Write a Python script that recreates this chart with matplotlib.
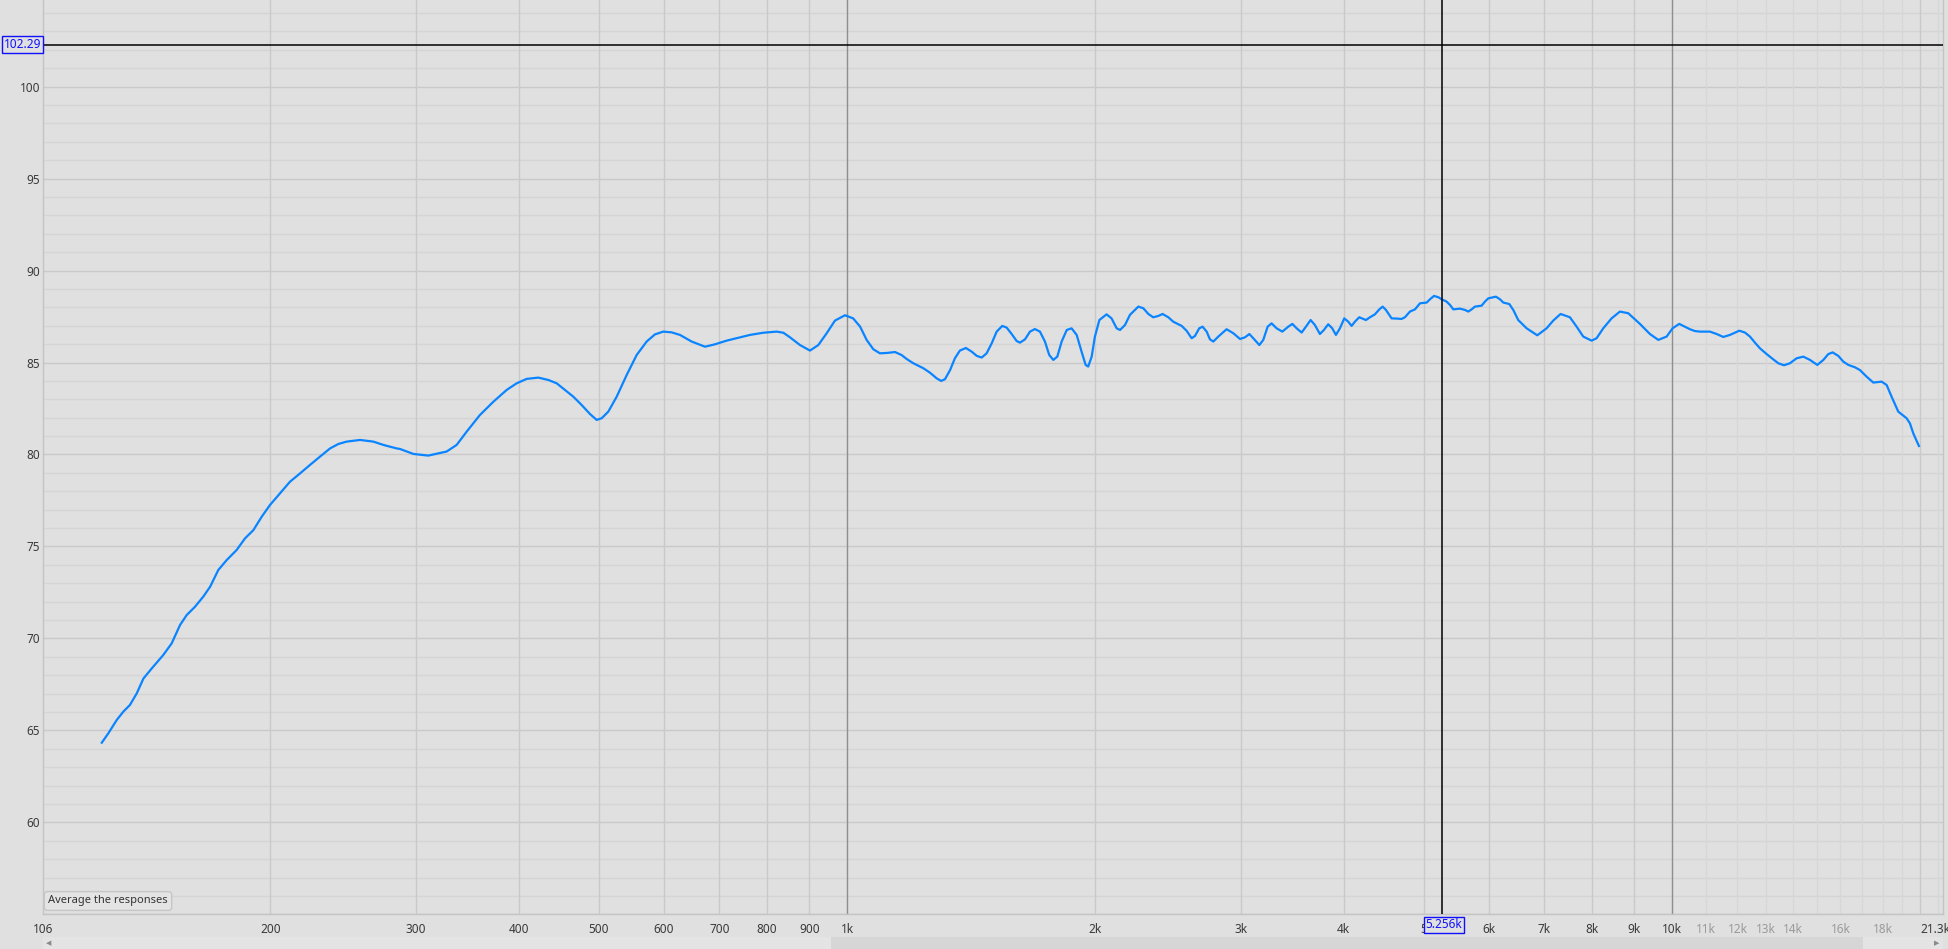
import matplotlib
matplotlib.use('Agg')
import matplotlib.pyplot as plt
from matplotlib.patches import Rectangle

# frequency response (Hz, dB)
freq_hz = [124.9, 127.2, 130.2, 132.6, 135.1, 137.7, 140.3, 143.6, 148.3, 151.8,
           155.4, 158.3, 162.0, 165.8, 169.0, 172.9, 177.0, 182.0, 186.3, 190.7,
           195.2, 199.7, 205.4, 211.2, 217.2, 223.3, 229.6, 236.2, 241.7, 247.4,
           256.8, 266.5, 274.1, 284.4,
           287.1, 298.0, 310.7, 327.0, 336.3, 345.8, 358.9, 372.6, 386.7, 397.6,
           408.9, 422.4, 434.4, 444.6, 455.0, 465.8, 476.7, 487.9, 497.1, 504.1,
           513.5, 525.6, 540.5, 555.8, 571.5, 584.9, 598.7, 612.8, 627.2, 648.0,
           672.6, 691.6, 714.5, 741.6, 762.5, 791.4, 821.5, 836.9, 852.6, 876.8,
           901.6, 922.8, 944.5, 966.7, 994.1,
           1017, 1037, 1056, 1076, 1096, 1117, 1143, 1164, 1181, 1203,
           1237, 1260, 1284, 1300, 1314, 1333, 1351, 1370, 1393, 1416,
           1436, 1456, 1476, 1497, 1518, 1542, 1561, 1583, 1605, 1620,
           1643, 1666, 1689, 1713, 1737, 1758, 1778, 1798, 1820, 1846,
           1871, 1898, 1924, 1946, 1960, 1979, 1997, 2022, 2063, 2092,
           2122, 2142, 2172, 2202, 2254, 2286, 2318, 2350, 2383, 2412,
           2451, 2485, 2544, 2579, 2616, 2640, 2672, 2697, 2728, 2753,
           2779, 2818, 2884, 2939, 2994, 3036, 3073, 3107, 3160, 3195,
           3234, 3270, 3316, 3369, 3426, 3465, 3507,
           3556, 3599, 3646, 3690, 3742, 3784, 3830, 3873, 3913, 3957,
           4005, 4050, 4088, 4126, 4176, 4255, 4303, 4363, 4417, 4458,
           4499, 4571, 4635, 4700, 4744, 4811, 4879, 4948, 5041, 5088,
           5145, 5208, 5256, 5330, 5380, 5430, 5532, 5609, 5662, 5715,
           5768, 5876, 5931, 5987, 6116, 6185, 6243, 6348, 6419, 6509,
           6663, 6864, 7045, 7177, 7326, 7519, 7661, 7804, 7988, 8100,
           8252, 8446, 8645, 8848, 9141, 9400, 9622, 9848, 10014, 10202,
           10511, 10659, 10809, 11115, 11324, 11537, 11752, 12063, 12255, 12428,
           12603, 12780, 13020, 13264, 13451, 13665, 13895, 14157, 14423, 14695,
           14998, 15252, 15466, 15654, 15903, 16126, 16353, 16659, 16893, 17211,
           17534, 17947, 18199, 18454, 18800, 19243, 19423, 19604, 19917]
spl_db = [64.33, 64.84, 65.56, 66.01, 66.38, 67.01, 67.82, 68.37, 69.10, 69.73,
          70.73, 71.27, 71.72, 72.27, 72.81, 73.72, 74.26, 74.81, 75.44, 75.89,
          76.62, 77.25, 77.89, 78.52, 78.97, 79.43, 79.88, 80.33, 80.57, 80.70,
          80.79, 80.70, 80.52, 80.33,
          80.30, 80.03, 79.94, 80.16, 80.52, 81.24, 82.15, 82.87, 83.51, 83.87,
          84.11, 84.18, 84.05, 83.87, 83.51, 83.14, 82.69, 82.20, 81.88, 81.97,
          82.33, 83.14, 84.32, 85.41, 86.14, 86.53, 86.68, 86.64, 86.50, 86.14,
          85.86, 85.99, 86.19, 86.37, 86.50, 86.62, 86.68, 86.62, 86.37, 85.95,
          85.65, 85.95, 86.59, 87.28, 87.57,
          87.40, 86.95, 86.23, 85.72, 85.50, 85.52, 85.57, 85.41, 85.19, 84.96,
          84.69, 84.45, 84.14, 84.00, 84.09, 84.59, 85.23, 85.65, 85.79, 85.59,
          85.36, 85.27, 85.50, 86.04, 86.68, 86.99, 86.90, 86.55, 86.17, 86.08,
          86.26, 86.68, 86.82, 86.68, 86.14, 85.41, 85.14, 85.32, 86.14, 86.77,
          86.86, 86.50, 85.59, 84.87, 84.78, 85.32, 86.41, 87.31, 87.62, 87.40,
          86.86, 86.77, 87.04, 87.59, 88.04, 87.95, 87.64, 87.46, 87.53, 87.64,
          87.46, 87.22, 86.99, 86.73, 86.32, 86.44, 86.86, 86.95, 86.68, 86.26,
          86.14, 86.41, 86.81, 86.59, 86.28, 86.37, 86.55, 86.32, 85.95, 86.23,
          86.95, 87.13, 86.86, 86.68, 86.95, 87.10, 86.86,
          86.63, 86.95, 87.31, 87.04, 86.55, 86.77, 87.08, 86.86, 86.50, 86.86,
          87.40, 87.22, 86.99, 87.22, 87.46, 87.31, 87.46, 87.62, 87.89, 88.04,
          87.86, 87.40, 87.39, 87.37, 87.46, 87.77, 87.89, 88.22, 88.26, 88.44,
          88.62, 88.55, 88.44, 88.31, 88.13, 87.89, 87.93, 87.86, 87.77, 87.89,
          88.04, 88.09, 88.31, 88.49, 88.58, 88.44, 88.26, 88.18, 87.86, 87.31,
          86.86, 86.48, 86.86, 87.28, 87.64, 87.46, 86.95, 86.41, 86.19, 86.32,
          86.86, 87.40, 87.77, 87.68, 87.10, 86.55, 86.23, 86.41, 86.86, 87.10,
          86.81, 86.71, 86.68, 86.68, 86.55, 86.39, 86.50, 86.73, 86.63, 86.41,
          86.08, 85.77, 85.46, 85.17, 84.96, 84.85, 84.96, 85.23, 85.32, 85.14,
          84.87, 85.14, 85.46, 85.55, 85.36, 85.05, 84.87, 84.74, 84.59, 84.23,
          83.91, 83.96, 83.78, 83.14, 82.33, 81.97, 81.69, 81.15, 80.46]

x_tick_hz = [106, 200, 300, 400, 500, 600, 700, 800, 900, 1000, 2000, 3000, 4000, 5000,
             6000, 7000, 8000, 9000, 10000, 11000, 12000, 13000, 14000, 16000, 18000, 21300]
x_tick_labels = ['106', '200', '300', '400', '500', '600', '700', '800', '900', '1k',
                 '2k', '3k', '4k', '5', '6k', '7k', '8k', '9k', '10k', '11k', '12k',
                 '13k', '14k', '16k', '18k', '21.3kHz']
y_ticks = [60, 65, 70, 75, 80, 85, 90, 95, 100]

cursor_hz = 5256
cursor_db = 102.29

bg = '#e0e0e0'
plt.rcParams['font.family'] = ['Noto Sans', 'DejaVu Sans']

fig = plt.figure(figsize=(19.48, 9.49), dpi=100, facecolor=bg)
ax = fig.add_axes([43 / 1948, 34.7 / 949, 1900 / 1948, 914.3 / 949])
ax.set_facecolor(bg)
ax.set_xscale('log')
ax.set_xlim(106, 21300)
ax.set_ylim(55, 104.71)

# horizontal grid: 1 dB minor, 5 dB major
for v in range(55, 105):
    ax.axhline(v, color='#c9c9c9' if v % 5 == 0 else '#d5d5d5', lw=1, zorder=0)

# vertical grid
for f in [200, 300, 400, 500, 600, 700, 800, 900, 2000, 3000, 4000, 5000,
          6000, 7000, 8000, 9000, 20000]:
    ax.axvline(f, color='#c9c9c9', lw=1, zorder=0)
for f in [11000, 12000, 13000, 14000, 15000, 16000, 17000, 18000, 19000, 21000]:
    ax.axvline(f, color='#d7d7d7', lw=1, zorder=0)
for f in [1000, 10000]:
    ax.axvline(f, color='#8e8e8e', lw=1, zorder=1)

ax.plot(freq_hz, spl_db, color='#0a84ff', lw=1.6, zorder=3, solid_joinstyle='round')

# cursor lines
ax.axhline(cursor_db, color='black', lw=1.1, zorder=4)
ax.axvline(cursor_hz, color='black', lw=1.1, zorder=4)

for s in ax.spines.values():
    s.set_color('#c4c4c4')
    s.set_linewidth(1)
ax.spines['top'].set_visible(False)

ax.set_xticks(x_tick_hz)
ax.set_xticklabels(x_tick_labels)
ax.minorticks_off()
ax.set_yticks(y_ticks)
ax.set_yticklabels([str(v) for v in y_ticks])
ax.tick_params(axis='both', length=0, labelsize=8.5, labelcolor='#3a3a3a')
ax.tick_params(axis='x', pad=6)
ax.tick_params(axis='y', pad=2)
for lab, f in zip(ax.get_xticklabels(), x_tick_hz):
    if 10000 < f < 20000:
        lab.set_color('#9a9a9a')
for lab in ax.get_xticklabels() + ax.get_yticklabels():
    lab.set_clip_on(False)

# cursor readouts
fig.text(22.5 / 1948, 1 - 44.5 / 949, f'{cursor_db:.2f}', ha='center', va='center',
         fontsize=8.5, color='#1010ff',
         bbox=dict(boxstyle='square,pad=0.15', fc=bg, ec='#1010ff', lw=1))
fig.text(1444 / 1948, 1 - 925 / 949, f'{cursor_hz / 1000:.3f}k', ha='center', va='center',
         fontsize=8.5, color='#1010ff',
         bbox=dict(boxstyle='square,pad=0.1', fc=bg, ec='#1010ff', lw=1))

# button
fig.text(108 / 1948, 1 - 901 / 949, 'Average the responses', ha='center', va='center',
         fontsize=8, color='#333333',
         bbox=dict(boxstyle='round,pad=0.35,rounding_size=0.3', fc='#e4e4e4', ec='#c6c6c6', lw=1))

# scrollbar
fig.patches.append(Rectangle((43 / 1948, 0), 1900 / 1948, 12 / 949, transform=fig.transFigure,
                             fc='#e4e4e4', ec='none'))
fig.patches.append(Rectangle((831 / 1948, 0), 1032 / 1948, 12 / 949, transform=fig.transFigure,
                             fc='#d6d6d6', ec='none'))
fig.text(49 / 1948, 1 - 943 / 949, '\u25c0', ha='center', va='center', fontsize=5,
         color='#8a8a8a', family='DejaVu Sans')
fig.text(1937 / 1948, 1 - 943 / 949, '\u25b6', ha='center', va='center', fontsize=5,
         color='#8a8a8a', family='DejaVu Sans')

fig.savefig('out.png', dpi=100, facecolor=bg)
